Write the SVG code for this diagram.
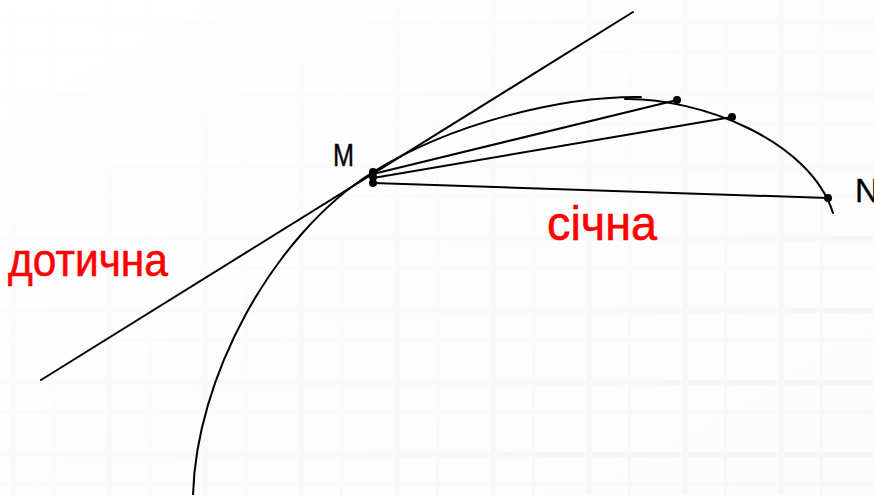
<svg xmlns="http://www.w3.org/2000/svg" width="874" height="495" viewBox="0 0 874 495">
<style>
.ln{fill:none;stroke:#000;stroke-width:2;stroke-linecap:round}
.dot{fill:#000}
.lbl{font-family:"Liberation Sans",Arial,sans-serif;fill:#000;stroke:#000;stroke-width:0.4}
.red{font-family:"Liberation Sans",Arial,sans-serif;fill:#ff0000;stroke:#ff0000;stroke-width:0.6}
</style>
<defs>
<pattern id="plaid" width="96" height="72" patternUnits="userSpaceOnUse">
<rect width="96" height="72" fill="#fcfcfc"/>
<rect x="10" y="0" width="6" height="72" fill="#f5f5f5"/>
<rect x="52" y="0" width="3" height="72" fill="#f7f7f7"/>
<rect x="0" y="20" width="96" height="5" fill="#f5f5f5"/>
<rect x="0" y="50" width="96" height="3" fill="#f7f7f7"/>
</pattern>
<linearGradient id="fade" x1="0" y1="0" x2="1" y2="1">
<stop offset="0" stop-color="#fff" stop-opacity="0.97"/>
<stop offset="0.5" stop-color="#fff" stop-opacity="0.5"/>
<stop offset="1" stop-color="#fff" stop-opacity="0.1"/>
</linearGradient>
</defs>
<rect width="874" height="495" fill="url(#plaid)"/>
<rect width="874" height="495" fill="url(#fade)"/>
<g id="connectors">
<path id="tangent" class="ln" d="M41,380 L633,12"/>
<path id="curve1" class="ln" d="M193,495 C196,380 270,237 373,172 C450,124 560,96 641,97"/>
<path id="curve2" class="ln" d="M625,99 C700,98 810,140 833,213"/>
<path id="secant1" class="ln" d="M373,174 L677,100"/>
<path id="secant2" class="ln" d="M373,178 L732,117"/>
<path id="secant3" class="ln" d="M373,183 L828,198"/>
</g>
<g id="points">
<circle class="dot" cx="373" cy="172" r="4"/>
<circle class="dot" cx="373" cy="177" r="4"/>
<circle class="dot" cx="373" cy="183" r="4"/>
<circle class="dot" cx="677" cy="100" r="4"/>
<circle class="dot" cx="732" cy="117" r="4"/>
<circle class="dot" cx="828" cy="198" r="4"/>
</g>
<g id="label-M"><text class="lbl" x="333" y="166" font-size="32" textLength="21" lengthAdjust="spacingAndGlyphs">M</text></g>
<g id="label-N"><text class="lbl" x="855" y="202" font-size="33">N</text></g>
<g id="label-tangent"><text class="red" x="8" y="276" font-size="47" textLength="160" lengthAdjust="spacingAndGlyphs">дотична</text></g>
<g id="label-secant"><text class="red" x="547" y="240" font-size="48" textLength="110" lengthAdjust="spacingAndGlyphs">січна</text></g>
</svg>
